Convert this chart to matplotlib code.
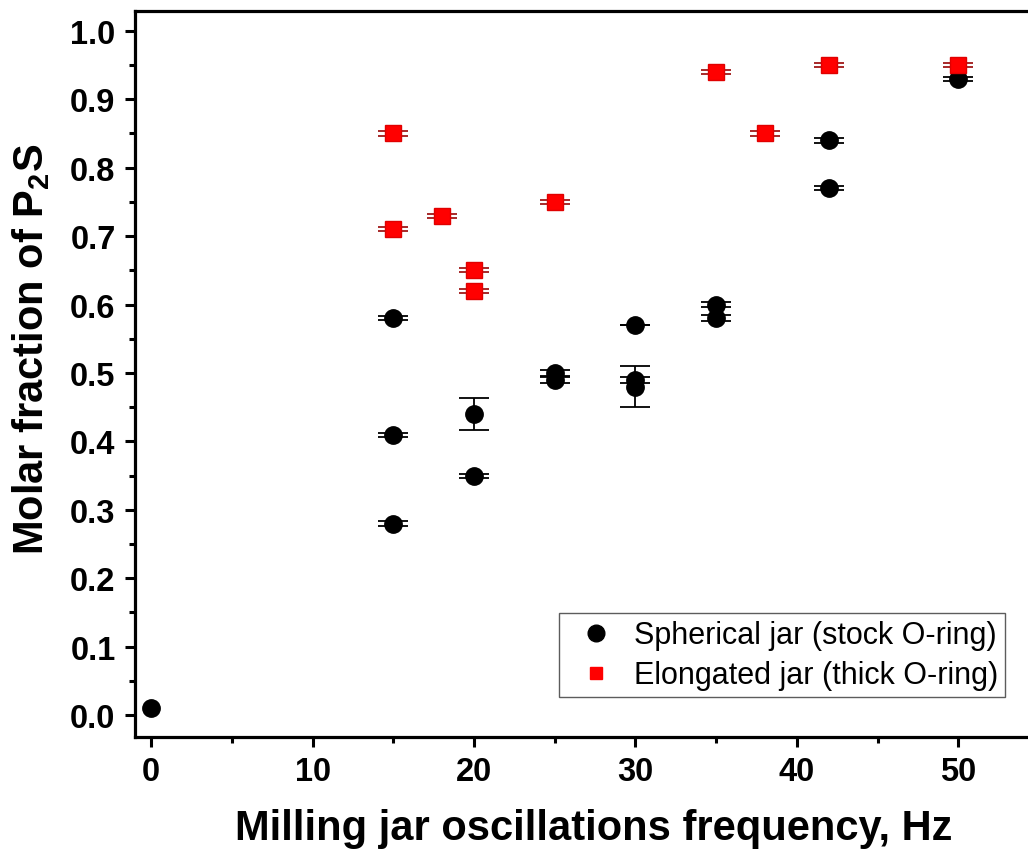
import matplotlib
matplotlib.use("Agg")
import matplotlib.pyplot as plt
import numpy as np
from matplotlib.lines import Line2D
from matplotlib.ticker import MultipleLocator

plt.rcParams["font.family"] = ["Liberation Sans", "DejaVu Sans"]
plt.rcParams["mathtext.fontset"] = "custom"
plt.rcParams["mathtext.rm"] = "Liberation Sans:bold"
plt.rcParams["mathtext.bf"] = "Liberation Sans:bold"
plt.rcParams["mathtext.it"] = "Liberation Sans:bold"

# ── data ──────────────────────────────────────────────────────────────────────
sph_freq = [0, 15, 15, 15, 20, 20, 25, 25, 30, 30, 30, 35, 35, 42, 42, 50]
sph_frac = [0.01, 0.58, 0.41, 0.28, 0.44, 0.35, 0.50, 0.49, 0.57, 0.49, 0.48,
            0.60, 0.58, 0.84, 0.77, 0.93]
sph_err = [np.nan, 0.003, 0.003, 0.003, 0.023, 0.003, 0.004, 0.004, 0.0, 0.004,
           0.03, 0.004, 0.004, 0.004, 0.003, 0.003]

elo_freq = [15, 15, 18, 20, 20, 25, 35, 38, 42, 50]
elo_frac = [0.85, 0.71, 0.73, 0.65, 0.62, 0.75, 0.94, 0.85, 0.95, 0.95]
elo_err = [0.003, 0.003, 0.003, 0.003, 0.003, 0.003, 0.003, 0.003, 0.003, 0.003]

LABELS = ["Spherical jar (stock O-ring)", "Elongated jar (thick O-ring)"]

W, H = 1028, 853
fig = plt.figure(figsize=(W / 100, H / 100), dpi=100)
ax = fig.add_axes([135 / W, (H - 738) / H, (1039 - 135) / W, (738 - 12) / H])

ax.errorbar(sph_freq, sph_frac, yerr=sph_err, fmt="o", color="black", ms=12.5,
            ecolor="black", elinewidth=1.3, capsize=11, capthick=1.3, zorder=3)
ax.errorbar(elo_freq, elo_frac, yerr=elo_err, fmt="s", color="#ff0000", ms=11.5,
            mec="#e00000", ecolor="#a01818", elinewidth=1.3, capsize=11,
            capthick=1.3, zorder=3)

ax.set_xlim(-1, 55)
ax.set_ylim(-0.032, 1.029)
ax.xaxis.set_major_locator(MultipleLocator(10))
ax.xaxis.set_minor_locator(MultipleLocator(5))
ax.yaxis.set_major_locator(MultipleLocator(0.1))
ax.yaxis.set_minor_locator(MultipleLocator(0.05))
ax.yaxis.set_major_formatter(plt.FuncFormatter(lambda v, p: f"{v:.1f}"))

for s in ax.spines.values():
    s.set_linewidth(2.3)
ax.tick_params(which="major", direction="out", length=7, width=2.2, pad=7,
               labelsize=23.5)
ax.tick_params(which="minor", direction="out", length=4, width=2.2)
for lab in ax.get_xticklabels() + ax.get_yticklabels():
    lab.set_fontweight("bold")

ax.set_xlabel("Milling jar oscillations frequency, Hz", fontsize=30,
              fontweight="bold")
ax.set_ylabel(r"Molar fraction of P$_2$S", fontsize=30, fontweight="bold")
ax.xaxis.set_label_coords(0.507, -0.098)
ax.yaxis.set_label_coords(-0.092, 0.536)

handles = [
    Line2D([], [], ls="none", marker="o", color="black", ms=12),
    Line2D([], [], ls="none", marker="s", color="#ff0000", ms=9),
]
leg = fig.legend(handles, LABELS, loc="lower right",
                 bbox_to_anchor=(1005 / W, (H - 698) / H),
                 bbox_transform=fig.transFigure, fontsize=22, frameon=True,
                 fancybox=False, edgecolor="#333333", borderaxespad=0,
                 handletextpad=0.23, labelspacing=0.33, borderpad=0.22,
                 handlelength=2.0)
leg.get_frame().set_linewidth(1.0)

fig.savefig("out.png", dpi=100)
